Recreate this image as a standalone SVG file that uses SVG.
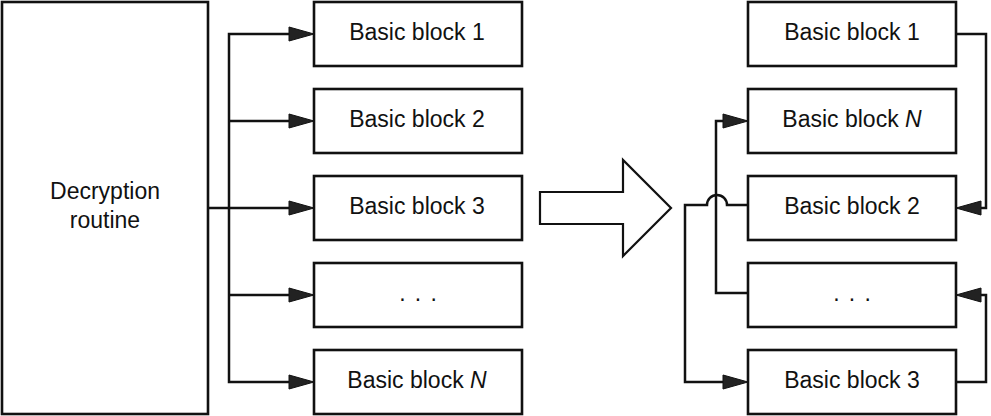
<svg xmlns="http://www.w3.org/2000/svg" width="991" height="416" viewBox="0 0 991 416">
  <style>
    .box { fill: #fff; stroke: #111; stroke-width: 2.6; }
    .lbl { font-family: "Liberation Sans", Arial, sans-serif; font-size: 23px; fill: #111; text-anchor: middle; }
    .dots { word-spacing: 2.8px; }
    .wire { fill: none; stroke: #111; stroke-width: 2.5; marker-end: url(#ah); }
    .big { fill: #fff; stroke: #111; stroke-width: 2.2; stroke-linejoin: miter; }
  </style>
  <defs>
    <marker id="ah" markerUnits="userSpaceOnUse" viewBox="0 0 25 14" markerWidth="25" markerHeight="14" refX="0" refY="7" orient="auto" overflow="visible">
      <path d="M0,0 L25,7 L0,14 Z" fill="#222" stroke="#111" stroke-width="1"/>
    </marker>
  </defs>

  <!-- connectors -->
  <g id="connectors">
    <!-- fan-out from the decryption routine -->
    <path class="wire" d="M229,208 V34 H289"/>
    <path class="wire" d="M229,121 H289"/>
    <path class="wire" d="M208,208 H289"/>
    <path class="wire" d="M229,295 H289"/>
    <path class="wire" d="M229,208 V382 H289"/>
    <!-- shuffled chain -->
    <path class="wire" d="M956,34 H986 V208 H981"/>
    <path class="wire" d="M956,382 H986 V295 H981"/>
    <path class="wire" d="M748,205 H727 A10,10 0 0 0 707,205 H685 V382 H723"/>
    <path class="wire" d="M748,293 H716 V121 H723"/>
  </g>

  <!-- transformation arrow -->
  <g id="transform-arrow">
    <polygon class="big" points="540,192 623,192 623,160 671,208 623,256 623,224 540,224"/>
  </g>

  <g id="decryption-routine">
    <rect class="box" x="2" y="2" width="206" height="412"/>
    <text class="lbl" x="105" y="199">Decryption</text>
    <text class="lbl" x="105" y="228">routine</text>
  </g>

  <!-- left column -->
  <g id="l-bb1">
    <rect class="box" x="314" y="2" width="208" height="64"/>
    <text class="lbl" x="417" y="40">Basic block 1</text>
  </g>
  <g id="l-bb2">
    <rect class="box" x="314" y="89" width="208" height="64"/>
    <text class="lbl" x="417" y="127">Basic block 2</text>
  </g>
  <g id="l-bb3">
    <rect class="box" x="314" y="176" width="208" height="64"/>
    <text class="lbl" x="417" y="214">Basic block 3</text>
  </g>
  <g id="l-dots">
    <rect class="box" x="314" y="263" width="208" height="64"/>
    <text class="lbl dots" x="418" y="301">. . .</text>
  </g>
  <g id="l-bbn">
    <rect class="box" x="314" y="350" width="208" height="64"/>
    <text class="lbl" x="417" y="388">Basic block <tspan font-style="italic">N</tspan></text>
  </g>

  <!-- right column -->
  <g id="r-bb1">
    <rect class="box" x="748" y="2" width="208" height="64"/>
    <text class="lbl" x="852" y="40">Basic block 1</text>
  </g>
  <g id="r-bbn">
    <rect class="box" x="748" y="89" width="208" height="64"/>
    <text class="lbl" x="852" y="127">Basic block <tspan font-style="italic">N</tspan></text>
  </g>
  <g id="r-bb2">
    <rect class="box" x="748" y="176" width="208" height="64"/>
    <text class="lbl" x="852" y="214">Basic block 2</text>
  </g>
  <g id="r-dots">
    <rect class="box" x="748" y="263" width="208" height="64"/>
    <text class="lbl dots" x="852" y="301">. . .</text>
  </g>
  <g id="r-bb3">
    <rect class="box" x="748" y="350" width="208" height="64"/>
    <text class="lbl" x="852" y="388">Basic block 3</text>
  </g>
</svg>
